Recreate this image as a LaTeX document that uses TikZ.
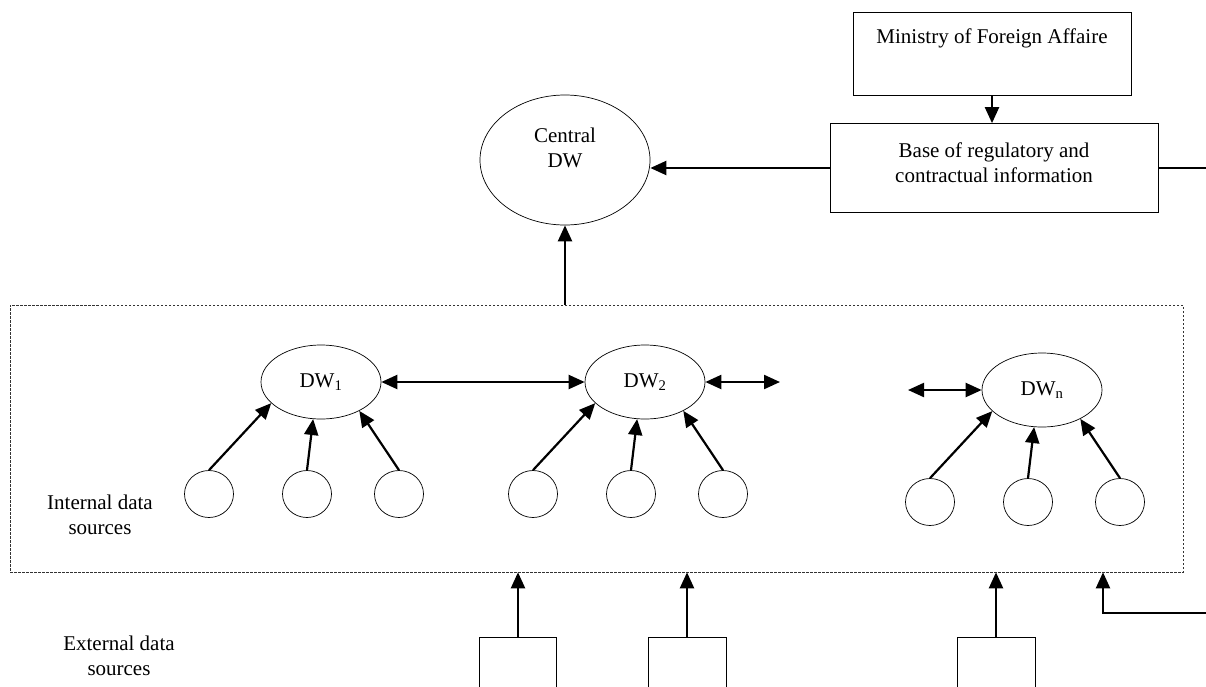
\documentclass[tikz,border=0pt]{standalone}
\usepackage{fontspec}
\setmainfont{Liberation Serif}
\usetikzlibrary{arrows.meta,shapes.geometric}

\begin{document}
\begin{tikzpicture}[x=1pt, y=-1pt,
  every node/.style={font=\fontsize{21}{25}\selectfont},
  box/.style={draw, line width=0.7pt, inner sep=0pt},
  dw/.style={draw, ellipse, line width=0.7pt, minimum width=120pt, minimum height=74pt, inner sep=0pt},
  src/.style={draw, ellipse, line width=0.7pt, minimum width=49pt, minimum height=47pt, inner sep=0pt},
  link/.style={line width=2.2pt, -{Triangle[length=16pt,width=14pt]}},
  both/.style={line width=2.2pt, {Triangle[length=16pt,width=14pt]}-{Triangle[length=16pt,width=14pt]}}]
  \useasboundingbox (0,0) rectangle (1206,686);
  \clip (0,0) rectangle (1206,686);

  % top part
  \node[box, minimum width=278pt, minimum height=83pt] (mfa) at (992,53.5) {};
  \node (mfalabel) at (992,38) {Ministry of Foreign Affaire};
  \node[box, minimum width=328pt, minimum height=89pt] (base) at (994,168) {};
  \node[align=center] (baselabel) at (994,163) {Base of regulatory and\\contractual information};
  \node[draw, ellipse, line width=0.7pt, minimum width=170pt, minimum height=130pt] (cdw) at (565,160) {};
  \node[align=center] (cdwlabel) at (565,148) {Central\\DW};
  \coordinate (rtop) at (1212,168);
  \coordinate (rbot) at (1212,613);
  \coordinate (feed) at (1103,613);

  % internal sources
  \node[draw, dash pattern=on 2.5pt off 1.5pt, line width=0.6pt, black!80,
        minimum width=1173pt, minimum height=267pt, inner sep=0pt] (inner) at (596.5,438.5) {};
  \node[align=center] (intlabel) at (100,515) {Internal data\\sources};
  \node[align=center] (extlabel) at (119,656) {External data\\sources};

  \foreach \k/\cx/\cy in {1/321/382, 2/645/382, n/1042/390} {
    \node[dw] (dw\k) at (\cx,\cy) {DW\textsubscript{\k}};
    \node[src] (s\k a) at (\cx-112,\cy+112) {};
    \node[src] (s\k b) at (\cx-14,\cy+112) {};
    \node[src] (s\k c) at (\cx+78,\cy+112) {};
    \draw[link] (s\k a.north) -- (dw\k.203);
    \draw[link] (s\k b.north) -- (dw\k.258);
    \draw[link] (s\k c.north) -- (dw\k.323);
  }
  \coordinate (gapl) at (780,382);
  \coordinate (gapr) at (908,390);

  % external sources
  \node[box, anchor=north, minimum width=77pt, minimum height=100pt] (ext1) at (518,637) {};
  \node[box, anchor=north, minimum width=78pt, minimum height=100pt] (ext2) at (687,637) {};
  \node[box, anchor=north, minimum width=78pt, minimum height=100pt] (ext3) at (996,637) {};

  % connectors
  \draw[link] (mfa.south) -- (base.north -| mfa.south);
  \draw[link] (base.west) -- (cdw.east |- base.west);
  \draw[line width=2.2pt] (base.east) -- (rtop);
  \draw[link] (cdw.south |- inner.north) -- (cdw.south);
  \draw[both] (dw1.east) -- (dw2.west);
  \draw[both] (dw2.east) -- (gapl);
  \draw[both] (gapr) -- (dwn.west);
  \draw[link] (ext1.north) -- (ext1.north |- inner.south);
  \draw[link] (ext2.north) -- (ext2.north |- inner.south);
  \draw[link] (ext3.north) -- (ext3.north |- inner.south);
  \draw[link] (rbot) -- (feed) -- (feed |- inner.south);
\end{tikzpicture}
\end{document}
